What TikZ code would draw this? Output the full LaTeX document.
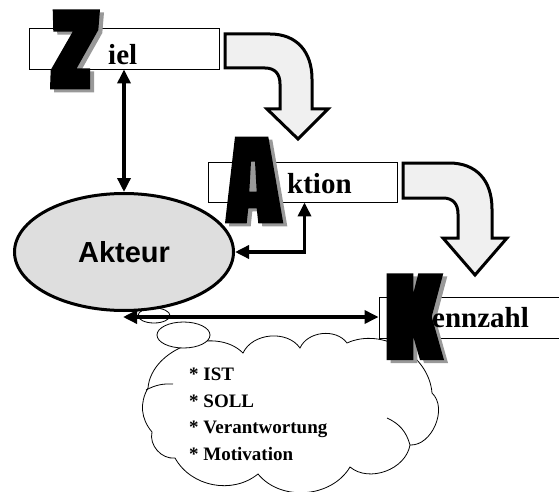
\documentclass[tikz,border=0pt]{standalone}
\usepackage{fontspec}
\setmainfont{Liberation Serif}
\newfontfamily\akfont{Liberation Sans}
\usetikzlibrary{shapes.geometric,arrows.meta,calc}

\tikzset{
  labelbox/.style={draw=black, line width=0.9pt, fill=white,
    minimum width=#1, minimum height=41pt, inner sep=0pt},
  boxtext/.style={font=\bfseries\fontsize{29}{30}\selectfont,
    anchor=base west, inner sep=0pt},
  letshadow/.style={fill=black!40},
  flowarrow/.style={draw=black, line width=3pt, fill=black!6, line join=miter},
  link/.style={line width=3.4pt,
    {Triangle[length=14pt,width=13pt]}-{Triangle[length=14pt,width=13pt]}},
  bubble/.style={draw=black, line width=0.8pt, fill=white},
  note/.style={font=\bfseries\fontsize{19}{20}\selectfont,
    anchor=base west, inner sep=0pt},
}

\begin{document}
\begin{tikzpicture}[x=1pt,y=-1pt]
\useasboundingbox (0,0) rectangle (559,492);
\fill[white] (0,0) rectangle (559,492);
\clip (0,0) rectangle (559,492);

% --- Ziel ---
\node[labelbox=190pt] (ziel) at (124,48.5) {};
\begin{scope}[shift={(4,3)}]
  \fill[letshadow] (52.7,9.3) -- (100,9.3) -- (98.3,30) -- (76.7,68.3) -- (90,68.3)
    -- (90,89.3) -- (50,89.3) -- (50.7,70) -- (72.7,31.7) -- (53.3,31.7) -- cycle;
\end{scope}
\fill[black] (52.7,9.3) -- (100,9.3) -- (98.3,30) -- (76.7,68.3) -- (90,68.3)
  -- (90,89.3) -- (50,89.3) -- (50.7,70) -- (72.7,31.7) -- (53.3,31.7) -- cycle;
\node[boxtext] (zieltext) at (108,65) {iel};

% --- turning arrow Ziel -> Aktion ---
\begin{scope}[shift={(225,34)}]
  \draw[flowarrow] (0,0) -- (45,0) .. controls (72,0) and (87,18) .. (87,45)
    -- (87,75) -- (103,75) -- (73,105) -- (42,75) -- (55,75) -- (55,50)
    .. controls (55,40) and (50,34) .. (40,34) -- (0,34) -- cycle;
\end{scope}

% --- Aktion ---
\node[labelbox=189pt, minimum height=40pt] (aktion) at (302.5,182) {};
\begin{scope}[shift={(4,3)}]
  \fill[letshadow, even odd rule] (235,136.7) -- (268.3,136.7) -- (283.3,223.3)
    -- (258.3,223.3) -- (256.7,208.3) -- (248.3,208.3) -- (246.7,223.3)
    -- (225,223.3) -- cycle;
\end{scope}
\fill[black, even odd rule] (235,136.7) -- (268.3,136.7) -- (283.3,223.3)
  -- (258.3,223.3) -- (256.7,208.3) -- (248.3,208.3) -- (246.7,223.3)
  -- (225,223.3) -- cycle
  (251,161.7) -- (255,161.7) -- (256.7,191.7) -- (249.3,191.7) -- cycle;
\node[boxtext] (aktiontext) at (287,193) {ktion};

% --- turning arrow Aktion -> Kennzahl ---
\begin{scope}[shift={(403,163)}]
  \draw[flowarrow] (0,0) -- (46,0) .. controls (74,0) and (89,18) .. (89,46)
    -- (89,75) -- (104,75) -- (72,112) -- (40,75) -- (55,75) -- (55,51)
    .. controls (55,41) and (50,35) .. (40,35) -- (0,35) -- cycle;
\end{scope}

% --- thought cloud ---
\draw[bubble] (148,388) to[bend left=65] (243,353) to[bend left=60] (300,348)
  to[bend left=60] (347,343) to[bend left=55] (432,393) to[bend left=70] (410,445)
  to[bend left=60] (350,467) to[bend left=55] (258,474) to[bend left=50] (175,458)
  to[bend left=55] (152,432) to[bend left=35] cycle;
\draw[line width=0.8pt] (146,390) to[bend left=15] (173,384);
\draw[line width=0.8pt] (387,418) to[bend left=25] (410,445);
\node[note] (n1) at (189,380) {* IST};
\node[note] (n2) at (189,407) {* SOLL};
\node[note] (n3) at (189,433) {* Verantwortung};
\node[note] (n4) at (189,460) {* Motivation};

% --- Kennzahl ---
\node[labelbox=200pt] (kennzahl) at (479,317.5) {};
\begin{scope}[shift={(4,3)}]
  \fill[letshadow] (386.7,273.3) -- (413.3,273.3) -- (413.3,293.3) -- (418.3,273.3)
    -- (443.3,273.3) -- (431.7,316.7) -- (444,360) -- (420,360) -- (413.3,336.7)
    -- (413.3,360) -- (386.7,360) -- cycle;
\end{scope}
\fill[black] (386.7,273.3) -- (413.3,273.3) -- (413.3,293.3) -- (418.3,273.3)
  -- (443.3,273.3) -- (431.7,316.7) -- (444,360) -- (420,360) -- (413.3,336.7)
  -- (413.3,360) -- (386.7,360) -- cycle;
\node[boxtext] (kennzahltext) at (432,327) {ennzahl};

% --- Akteur with thought bubbles ---
\node[bubble, ellipse, minimum width=32pt, minimum height=15pt, inner sep=0pt]
  (b1) at (154,315.5) {};
\node[ellipse, draw=black, line width=3pt, fill=black!13,
  minimum width=219pt, minimum height=117pt, inner sep=0pt,
  font=\akfont\bfseries\fontsize{29}{30}\selectfont] (akteur) at (124,252) {Akteur};
\node[bubble, ellipse, minimum width=53pt, minimum height=26pt, inner sep=0pt]
  (b2) at (183.5,335) {};

% --- connectors ---
\coordinate (aklow) at ([xshift=-1pt,yshift=-5pt]akteur.south);
\draw[link] (ziel.south) -- (akteur.north);
\draw[link] (akteur.east) -| ([xshift=2pt]aktion.south);
\draw[link] (aklow) -- (aklow -| kennzahl.west);
\end{tikzpicture}
\end{document}
